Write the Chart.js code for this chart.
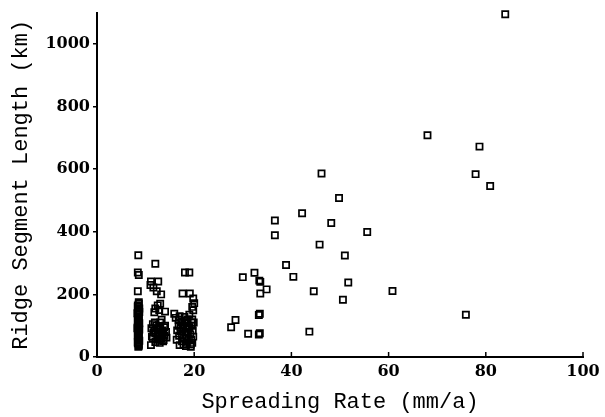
<!DOCTYPE html>
<html>
<head>
<meta charset="utf-8">
<script src="https://cdn.jsdelivr.net/npm/chart.js@4.4.1/dist/chart.umd.min.js"></script>
<style>
  html, body { margin: 0; padding: 0; background: #fff; }
  #wrap { width: 605px; height: 417px; }
</style>
</head>
<body>
<div id="wrap"><canvas id="ridgeChart"></canvas></div>
<script>
// spreading rate (mm/a) and ridge segment length (km)
const spreadRate = [
  84.0, 68.0, 78.7, 77.9, 80.9, 60.8, 75.9,
  46.2, 49.8, 42.2, 36.6, 48.2, 55.6, 36.6, 45.8, 51.0, 38.9, 30.0, 32.4, 40.4,
  33.6, 33.4, 51.7, 34.9, 33.6, 44.6, 50.6, 28.5, 27.6, 33.3, 33.5, 31.1, 33.3, 33.5, 43.7,
  // ~9 mm/a column
  8.5, 8.4, 8.6, 8.4, 8.6, 8.4, 8.7, 8.5, 8.3, 8.6, 8.5, 8.4, 8.7, 8.5, 8.3, 8.6, 8.5, 8.4, 8.6, 8.5, 8.4, 8.6, 8.5,
  8.6, 8.4, 8.7, 8.5, 8.4, 8.6, 8.5, 8.7, 8.4, 8.6, 8.5, 8.4, 8.6, 8.5, 8.7, 8.4, 8.6,
  // ~12 mm/a group
  12.0, 11.1, 12.6, 11.0, 11.6, 12.3, 13.2, 13.0, 12.5, 12.0, 12.8, 14.0, 11.8, 13.3,
  11.5, 12.2, 13.0, 13.8, 11.2, 12.5, 13.5, 14.2, 11.6, 12.8, 13.9, 11.3, 12.4, 13.2, 14.3, 12.0, 13.6, 11.1, 13.7,
  12.0, 13.0, 12.5, 11.8, 13.4, 12.9, 14.0, 11.5, 12.2, 13.6, 12.7, 11.9,
  // ~18 mm/a group
  18.1, 19.0, 17.6, 19.1, 20.0, 19.6, 19.8, 15.9, 16.2, 16.8, 19.8,
  17.0, 18.0, 19.0, 19.6, 17.4, 18.5, 19.5, 16.8, 17.8, 18.8, 19.7, 17.2, 18.2, 19.2,
  16.9, 17.9, 18.9, 19.8, 17.5, 18.5, 19.3, 17.0, 19.3, 16.4, 18.2, 19.5,
  18.0, 17.5, 18.7, 19.4, 17.8, 18.4, 19.0, 17.2, 18.6, 19.9, 16.5, 17.6, 18.3, 19.6
];
const segLength = [
  1095, 708, 672, 584, 546, 211, 135,
  586, 508, 459, 436, 428, 399, 389, 359, 324, 294, 255, 269, 256,
  240, 244, 238, 216, 203, 210, 183, 118, 95, 134, 138, 74, 72, 76, 81,
  325, 270, 262, 210, 175, 165, 155, 148, 140, 130, 122, 115, 108, 100, 92, 85, 78, 70, 62, 55, 48, 40, 33,
  36, 44, 52, 58, 66, 74, 82, 88, 96, 104, 112, 118, 126, 135, 144, 160, 170,
  298, 241, 241, 230, 222, 210, 200, 170, 165, 155, 150, 145, 143, 119,
  105, 100, 110, 95, 92, 88, 85, 80, 78, 72, 68, 65, 60, 58, 62, 48, 50, 38, 54,
  75, 95, 55, 85, 70, 45, 100, 60, 92, 78, 65, 110,
  270, 270, 203, 203, 172, 160, 149, 138, 125, 118, 187,
  130, 128, 135, 120, 112, 108, 100, 100, 95, 90, 85, 82, 78, 72,
  68, 62, 58, 65, 50, 45, 40, 38, 33, 55, 115, 110,
  110, 70, 80, 55, 40, 60, 95, 95, 120, 110, 85, 105, 35, 45
];
const xTicks = [0, 20, 40, 60, 80, 100];
const yTicks = [0, 200, 400, 600, 800, 1000];

const points = spreadRate.map((x, i) => ({ x: x, y: segLength[i] }));

// short tick marks on the bottom axis pointing up into the plot
const innerTicks = {
  id: 'innerTicks',
  afterDraw(chart) {
    const sx = chart.scales.x, ctx = chart.ctx;
    ctx.save();
    ctx.strokeStyle = '#000';
    ctx.lineWidth = 1.5;
    xTicks.forEach(v => {
      if (v === 0) return;
      const px = sx.getPixelForValue(v);
      ctx.beginPath();
      ctx.moveTo(px, sx.top);
      ctx.lineTo(px, sx.top - 5);
      ctx.stroke();
    });
    ctx.restore();
  }
};

new Chart(document.getElementById('ridgeChart'), {
  type: 'scatter',
  data: {
    datasets: [{
      data: points,
      clip: false,
      pointStyle: 'rect',
      pointRadius: 4.4,
      pointBorderWidth: 1.7,
      borderColor: '#000',
      backgroundColor: 'rgba(0,0,0,0)'
    }]
  },
  options: {
    responsive: true,
    maintainAspectRatio: false,
    animation: false,
    layout: { padding: { left: 0, top: 8, right: 22, bottom: 0 } },
    plugins: {
      legend: { display: false },
      tooltip: { enabled: false }
    },
    scales: {
      x: {
        type: 'linear',
        min: 0,
        max: 100,
        afterBuildTicks: s => { s.ticks = xTicks.map(v => ({ value: v })); },
        afterFit: s => { s.height = 60; },
        grid: { display: false },
        border: { display: true, color: '#000', width: 2 },
        ticks: {
          color: '#000',
          padding: -3,
          maxRotation: 0,
          callback: v => String(v),
          font: { family: 'DejaVu Serif', weight: 'bold', size: 16 }
        },
        title: {
          display: true,
          text: 'Spreading Rate (mm/a)',
          color: '#000',
          padding: { top: 0, bottom: 2 },
          font: { family: 'Liberation Mono', size: 22 }
        }
      },
      y: {
        type: 'linear',
        min: 0,
        max: 1100,
        afterBuildTicks: s => { s.ticks = yTicks.map(v => ({ value: v })); },
        afterFit: s => { s.width = 97; },
        grid: { display: true, drawOnChartArea: false, tickLength: 4, color: '#000', lineWidth: 1.5 },
        border: { display: true, color: '#000', width: 2 },
        ticks: {
          color: '#000',
          padding: 3,
          callback: v => String(v),
          font: { family: 'DejaVu Serif', weight: 'bold', size: 16 }
        },
        title: {
          display: true,
          text: 'Ridge Segment Length (km)',
          color: '#000',
          padding: { top: 8, bottom: 0 },
          font: { family: 'Liberation Mono', size: 22 }
        }
      }
    }
  },
  plugins: [innerTicks]
});
</script>
</body>
</html>
